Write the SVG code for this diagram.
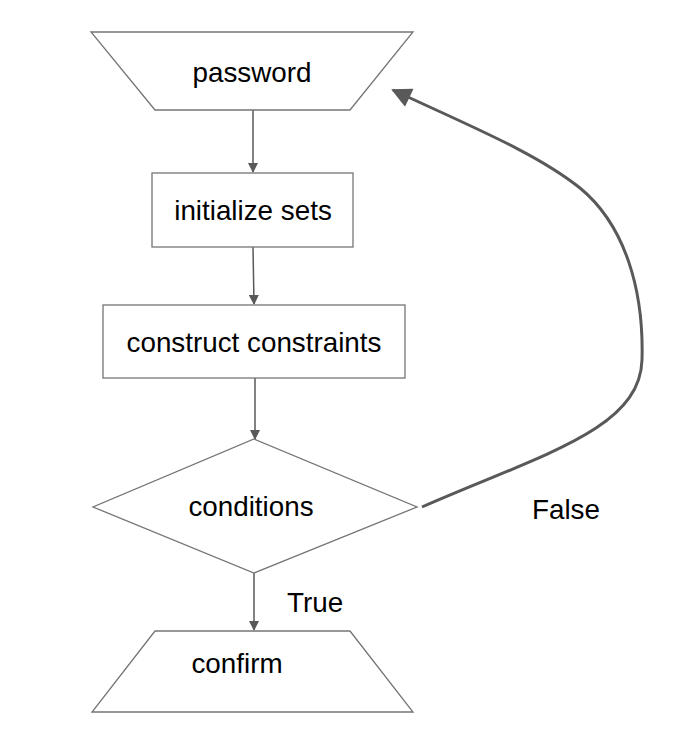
<svg xmlns="http://www.w3.org/2000/svg" width="686" height="742" viewBox="0 0 686 742">
<defs>
<style>
.shape{fill:#ffffff;stroke:#757575;stroke-width:1.3}
.lbl{font-family:"Liberation Sans",Arial,sans-serif;font-size:27.8px;fill:#000000}
.conn{fill:none;stroke:#595959;stroke-width:1.5}
.loop{fill:none;stroke:#595959;stroke-width:3}
</style>
<marker id="arr" viewBox="0 0 10 10" refX="9" refY="5" markerWidth="10" markerHeight="10" markerUnits="userSpaceOnUse" orient="auto">
<path d="M0,0 L10,5 L0,10 z" fill="#595959"/>
</marker>
<marker id="arrBig" viewBox="0 0 10 10" refX="9" refY="5" markerWidth="22" markerHeight="20" markerUnits="userSpaceOnUse" orient="auto">
<path d="M0,0 L10,5 L0,10 z" fill="#595959"/>
</marker>
</defs>
<rect width="686" height="742" fill="#ffffff"/>
<g id="connectors">
<line class="conn" x1="253" y1="110" x2="253" y2="172" marker-end="url(#arr)"/>
<line class="conn" x1="253" y1="247" x2="254" y2="304" marker-end="url(#arr)"/>
<line class="conn" x1="255" y1="378" x2="255" y2="439" marker-end="url(#arr)"/>
<line class="conn" x1="254" y1="573" x2="254" y2="630" marker-end="url(#arr)"/>
<path class="loop" d="M422,507 C540,455 640,430 642,360 C644,290 625,225 580,188 C535,152 465,124 393,90" marker-end="url(#arrBig)"/>
<text class="lbl" x="287" y="612">True</text>
<text class="lbl" x="532" y="519">False</text>
</g>
<g id="password">
<polygon class="shape" points="91,32 413,32 350,110 155,110"/>
<text class="lbl" x="252" y="82" text-anchor="middle">password</text>
</g>
<g id="initialize">
<rect class="shape" x="152" y="173" width="201" height="74"/>
<text class="lbl" x="253" y="220" text-anchor="middle">initialize sets</text>
</g>
<g id="construct">
<rect class="shape" x="103" y="305" width="302" height="73"/>
<text class="lbl" x="254" y="352" text-anchor="middle">construct constraints</text>
</g>
<g id="conditions">
<polygon class="shape" points="254,439 417,507 254,573 93,507"/>
<text class="lbl" x="251" y="516" text-anchor="middle">conditions</text>
</g>
<g id="confirm">
<polygon class="shape" points="155,631 350,631 413,712 92,712"/>
<text class="lbl" x="237" y="673" text-anchor="middle">confirm</text>
</g>
</svg>
